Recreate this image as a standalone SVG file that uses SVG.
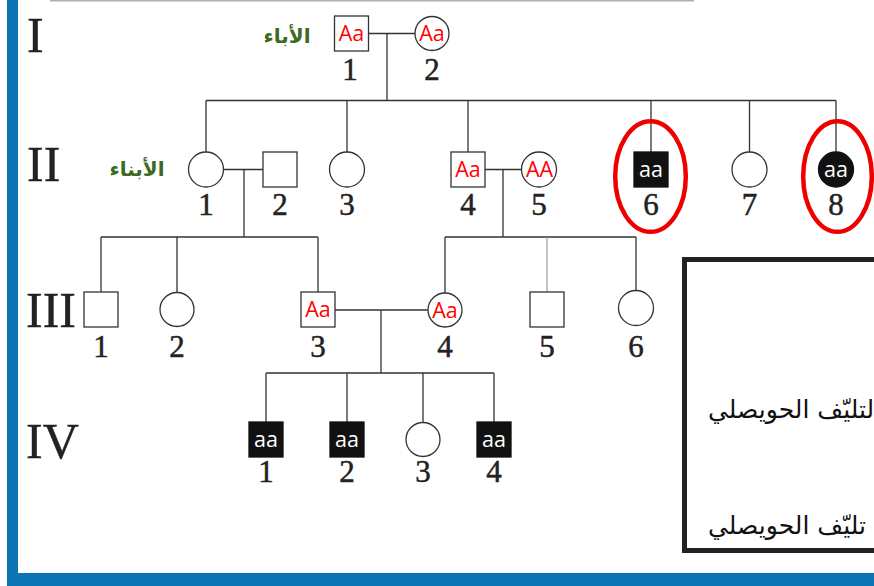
<svg xmlns="http://www.w3.org/2000/svg" width="874" height="586" viewBox="0 0 874 586">
  <style>
    .ln { stroke: #333; stroke-width: 1.3; fill: none; }
    .thin { stroke: #888; stroke-width: 1; fill: none; }
    .sym { stroke: #333; stroke-width: 1.3; fill: #fff; }
    .aff { stroke: #111; stroke-width: 1.3; fill: #111; }
    .gen { font-family: "Liberation Serif", "Times New Roman", serif; font-size: 50px; fill: #222; stroke: #222; stroke-width: 0.4; }
    .num { font-family: "Liberation Serif", "Times New Roman", serif; font-size: 31px; fill: #222; stroke: #222; stroke-width: 0.5; text-anchor: middle; }
    .gt { font-family: "Open Sans", "DejaVu Sans", sans-serif; font-size: 21.5px; fill: #ff0000; text-anchor: middle; }
    .gtw { font-family: "Open Sans", "DejaVu Sans", sans-serif; font-size: 21.5px; fill: #fff; text-anchor: middle; }
    .ar { font-family: "DejaVu Sans", sans-serif; font-weight: bold; font-size: 20px; fill: #3c6a22; text-anchor: middle; }
    .key { font-family: "DejaVu Sans", sans-serif; font-size: 25px; fill: #111; }
    .ring { stroke: #ee0000; stroke-width: 4.5; fill: none; }
  </style>

  <rect width="874" height="586" fill="#fff"/>

  <!-- page frame -->
  <g id="frame">
    <line x1="50" y1="0.75" x2="694" y2="0.75" stroke="#b0b0b0" stroke-width="1.5"/>
    <rect x="7" y="0" width="11" height="586" fill="#0a74b4"/>
    <rect x="7" y="573" width="867" height="13" fill="#0a74b4"/>
  </g>

  <!-- generation numerals -->
  <g id="generations">
    <text class="gen" x="27" y="52">I</text>
    <text class="gen" x="27" y="181">II</text>
    <text class="gen" x="26" y="327">III</text>
    <text class="gen" x="26" y="458">IV</text>
  </g>

  <g id="labels">
    <text class="ar" x="287" y="43">الأباء</text>
    <text class="ar" x="137" y="176">الأبناء</text>
  </g>

  <!-- connectors -->
  <g id="connectors">
    <!-- generation I mating and sibship -->
    <line class="ln" x1="368.5" y1="33.5" x2="415" y2="33.5"/>
    <line class="ln" x1="387" y1="33.5" x2="387" y2="100.5"/>
    <line class="ln" x1="206" y1="100.5" x2="836" y2="100.5"/>
    <line class="ln" x1="206" y1="100.5" x2="206" y2="152"/>
    <line class="ln" x1="347" y1="100.5" x2="347" y2="152"/>
    <line class="ln" x1="468" y1="100.5" x2="468" y2="152"/>
    <line class="ln" x1="651" y1="100.5" x2="651" y2="152"/>
    <line class="ln" x1="749.5" y1="100.5" x2="749.5" y2="152"/>
    <line class="ln" x1="836" y1="100.5" x2="836" y2="152"/>
    <!-- II-1 x II-2 -->
    <line class="ln" x1="223.5" y1="169.5" x2="263" y2="169.5"/>
    <line class="ln" x1="244" y1="169.5" x2="244" y2="237"/>
    <line class="ln" x1="101" y1="237" x2="318" y2="237"/>
    <line class="ln" x1="101" y1="237" x2="101" y2="292"/>
    <line class="ln" x1="177" y1="237" x2="177" y2="292.5"/>
    <line class="ln" x1="318" y1="237" x2="318" y2="292"/>
    <!-- II-4 x II-5 -->
    <line class="ln" x1="485" y1="169.5" x2="521.5" y2="169.5"/>
    <line class="ln" x1="503" y1="169.5" x2="503" y2="237"/>
    <line class="ln" x1="445" y1="237" x2="636" y2="237"/>
    <line class="ln" x1="445" y1="237" x2="445" y2="293"/>
    <line class="thin" x1="547" y1="237" x2="547" y2="292"/>
    <line class="ln" x1="636" y1="237" x2="636" y2="290.5"/>
    <!-- III-3 x III-4 -->
    <line class="ln" x1="335" y1="310" x2="428" y2="310"/>
    <line class="ln" x1="381" y1="310" x2="381" y2="373"/>
    <line class="ln" x1="266" y1="373" x2="494" y2="373"/>
    <line class="ln" x1="266" y1="373" x2="266" y2="422"/>
    <line class="ln" x1="347" y1="373" x2="347" y2="422"/>
    <line class="ln" x1="423" y1="373" x2="423" y2="422.5"/>
    <line class="ln" x1="494" y1="373" x2="494" y2="422"/>
  </g>

  <!-- generation I -->
  <g id="I-1">
    <rect class="sym" x="334.5" y="16" width="34" height="35"/>
    <text class="gt" x="351.5" y="41">Aa</text>
    <text class="num" x="350" y="80">1</text>
  </g>
  <g id="I-2">
    <circle class="sym" cx="432" cy="33.5" r="17"/>
    <text class="gt" x="432" y="41">Aa</text>
    <text class="num" x="432" y="80">2</text>
  </g>

  <!-- generation II -->
  <g id="II-1">
    <circle class="sym" cx="206" cy="169.5" r="17.5"/>
    <text class="num" x="206" y="215">1</text>
  </g>
  <g id="II-2">
    <rect class="sym" x="263" y="152" width="34" height="35"/>
    <text class="num" x="280" y="215">2</text>
  </g>
  <g id="II-3">
    <circle class="sym" cx="347" cy="169.5" r="17.5"/>
    <text class="num" x="347" y="215">3</text>
  </g>
  <g id="II-4">
    <rect class="sym" x="451" y="152" width="34" height="35"/>
    <text class="gt" x="468" y="177">Aa</text>
    <text class="num" x="468" y="215">4</text>
  </g>
  <g id="II-5">
    <circle class="sym" cx="539" cy="169.5" r="17.5"/>
    <text class="gt" x="539.5" y="177">AA</text>
    <text class="num" x="539" y="215">5</text>
  </g>
  <g id="II-6">
    <rect class="aff" x="634" y="152" width="34" height="35"/>
    <text class="gtw" x="651" y="177">aa</text>
    <text class="num" x="651" y="215">6</text>
    <ellipse class="ring" cx="650.5" cy="176.5" rx="35.3" ry="55.3"/>
  </g>
  <g id="II-7">
    <circle class="sym" cx="749.5" cy="169.5" r="17.5"/>
    <text class="num" x="749.5" y="215">7</text>
  </g>
  <g id="II-8">
    <circle class="aff" cx="836" cy="169.5" r="17.5"/>
    <text class="gtw" x="836" y="177">aa</text>
    <text class="num" x="836" y="215">8</text>
    <ellipse class="ring" cx="837.5" cy="176.5" rx="34.3" ry="55.3"/>
  </g>

  <!-- generation III -->
  <g id="III-1">
    <rect class="sym" x="84" y="292" width="34" height="35"/>
    <text class="num" x="101" y="357">1</text>
  </g>
  <g id="III-2">
    <circle class="sym" cx="177" cy="309.5" r="17"/>
    <text class="num" x="177" y="357">2</text>
  </g>
  <g id="III-3">
    <rect class="sym" x="301" y="292" width="34" height="35"/>
    <text class="gt" x="318" y="317">Aa</text>
    <text class="num" x="318" y="357">3</text>
  </g>
  <g id="III-4">
    <circle class="sym" cx="445" cy="310" r="17"/>
    <text class="gt" x="445" y="317.5">Aa</text>
    <text class="num" x="445" y="357">4</text>
  </g>
  <g id="III-5">
    <rect class="sym" x="530" y="292" width="34" height="35"/>
    <text class="num" x="547" y="357">5</text>
  </g>
  <g id="III-6">
    <circle class="sym" cx="636" cy="308" r="17.5"/>
    <text class="num" x="636" y="357">6</text>
  </g>

  <!-- generation IV -->
  <g id="IV-1">
    <rect class="aff" x="249" y="422" width="34" height="35"/>
    <text class="gtw" x="266" y="447">aa</text>
    <text class="num" x="266" y="482">1</text>
  </g>
  <g id="IV-2">
    <rect class="aff" x="330" y="422" width="34" height="35"/>
    <text class="gtw" x="347" y="447">aa</text>
    <text class="num" x="347" y="482">2</text>
  </g>
  <g id="IV-3">
    <circle class="sym" cx="423" cy="439.5" r="17"/>
    <text class="num" x="423" y="482">3</text>
  </g>
  <g id="IV-4">
    <rect class="aff" x="477" y="422" width="34" height="35"/>
    <text class="gtw" x="494" y="447">aa</text>
    <text class="num" x="494" y="482">4</text>
  </g>

  <!-- key box -->
  <g id="key">
    <rect x="684.5" y="259.5" width="200" height="291" fill="none" stroke="#222" stroke-width="5"/>
    <text class="key" x="708" y="418">لتليّف الحويصلي</text>
    <text class="key" x="708" y="534">تليّف الحويصلي</text>
  </g>
</svg>
